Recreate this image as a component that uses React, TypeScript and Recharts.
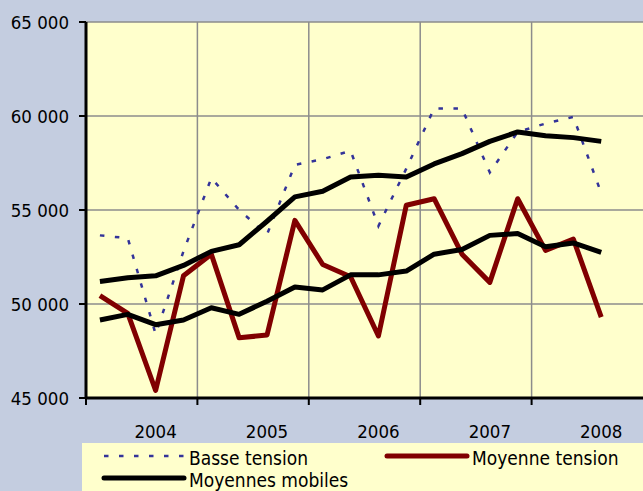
import { LineChart, Line, XAxis, YAxis, CartesianGrid, ReferenceLine } from "recharts";

const quarters = [
  "2004-T1", "2004-T2", "2004-T3", "2004-T4",
  "2005-T1", "2005-T2", "2005-T3", "2005-T4",
  "2006-T1", "2006-T2", "2006-T3", "2006-T4",
  "2007-T1", "2007-T2", "2007-T3", "2007-T4",
  "2008-T1", "2008-T2", "2008-T3",
];

const basseTension = [53650, 53500, 48400, 52800, 56700, 55000, 53700, 57400, 57700, 58150, 54150, 57200, 60400, 60400, 57000, 59150, 59600, 59950, 55900];
const moyenneTension = [50450, 49500, 45400, 51500, 52650, 48200, 48350, 54450, 52100, 51450, 48300, 55250, 55600, 52650, 51150, 55600, 52850, 53450, 49300];
const mmBasse = [51200, 51400, 51500, 52050, 52800, 53150, 54400, 55700, 56000, 56750, 56850, 56750, 57450, 58000, 58650, 59150, 58950, 58850, 58650];
const mmMoyenne = [49150, 49450, 48900, 49150, 49800, 49450, 50150, 50900, 50750, 51550, 51550, 51750, 52650, 52900, 53650, 53750, 53050, 53250, 52750];

const years = ["2004", "2005", "2006", "2007", "2008"];
// label sits on the 3rd quarter of each year, tick marks between years
const yearLabelPos = [2, 6, 10, 14, 18];
const yearBounds = [-0.5, 3.5, 7.5, 11.5, 15.5];
const yTicks = [45000, 50000, 55000, 60000, 65000];

const data = quarters.map((q, i) => ({
  idx: i,
  quarter: q,
  basse: basseTension[i],
  moyenne: moyenneTension[i],
  mmB: mmBasse[i],
  mmM: mmMoyenne[i],
}));

const FONT = "'DejaVu Sans Condensed', 'DejaVu Sans', sans-serif";
const BLUE = "#333399";
const RED = "#800000";
const GRID = "#8c8c8c";
const PLOT_BG = "#ffffcc";
const PAGE_BG = "#c4cde0";

const fmt = (v: number) => `${Math.floor(v / 1000)} ${String(v % 1000).padStart(3, "0")}`;

function QuarterTick(props: any) {
  const { x, y, payload } = props;
  const k = yearLabelPos.indexOf(payload.value);
  if (k >= 0) {
    return (
      <text x={x} y={y + 39.5} textAnchor="middle" fontSize={18.5} fill="#000">
        {years[k]}
      </text>
    );
  }
  return <line x1={x} x2={x} y1={y} y2={y + 7} stroke="#000" strokeWidth={2} />;
}

const legendItems = [
  { label: "Basse tension", color: BLUE, width: 2.5, dash: "4.5 10.5", x: 22, y: 13 },
  { label: "Moyenne tension", color: RED, width: 5, dash: undefined, x: 305, y: 13 },
  { label: "Moyennes mobiles", color: "#000", width: 5, dash: undefined, x: 22, y: 35 },
];

export default function App() {
  return (
    <div style={{ position: "relative", width: 643, height: 491, background: PAGE_BG, fontFamily: FONT, overflow: "hidden" }}>
      <style>{"body{margin:0}"}</style>
      <LineChart width={643} height={491} data={data} margin={{ top: 22, right: 0, left: 0, bottom: 48 }}>
        <CartesianGrid vertical={false} stroke={GRID} strokeWidth={1.5} fill={PLOT_BG} fillOpacity={1} />
        {yearBounds.slice(1).map((b) => (
          <ReferenceLine key={b} x={b} stroke={GRID} strokeWidth={1.5} />
        ))}
        <XAxis
          dataKey="idx"
          type="number"
          domain={[-0.5, 19.5]}
          ticks={[...yearBounds, ...yearLabelPos].sort((a, b) => a - b)}
          interval={0}
          height={45}
          tickSize={0}
          tickMargin={0}
          tickLine={false}
          axisLine={{ stroke: "#000", strokeWidth: 3 }}
          tick={<QuarterTick />}
        />
        <YAxis
          type="number"
          domain={[45000, 65000]}
          ticks={yTicks}
          width={86}
          tickSize={7}
          tickMargin={10}
          tickFormatter={fmt}
          axisLine={{ stroke: "#000", strokeWidth: 3 }}
          tickLine={{ stroke: "#000", strokeWidth: 2 }}
          tick={{ fontSize: 18.5, fill: "#000" }}
        />
        <Line type="linear" dataKey="basse" stroke={BLUE} strokeWidth={2.5} strokeDasharray="4.5 10.5" dot={false} isAnimationActive={false} />
        <Line type="linear" dataKey="moyenne" stroke={RED} strokeWidth={5} strokeLinejoin="round" dot={false} isAnimationActive={false} />
        <Line type="linear" dataKey="mmB" stroke="#000" strokeWidth={5} strokeLinejoin="round" dot={false} isAnimationActive={false} />
        <Line type="linear" dataKey="mmM" stroke="#000" strokeWidth={5} strokeLinejoin="round" dot={false} isAnimationActive={false} />
      </LineChart>
      <svg
        width={561}
        height={48}
        style={{ position: "absolute", left: 82, top: 443, background: PLOT_BG }}
      >
        {legendItems.map((it) => (
          <g key={it.label}>
            <line
              x1={it.x}
              x2={it.x + 80}
              y1={it.y}
              y2={it.y}
              stroke={it.color}
              strokeWidth={it.width}
              strokeDasharray={it.dash}
              strokeLinecap={it.dash ? "butt" : "round"}
            />
            <text x={it.x + 85} y={it.y + 9} fontSize={19} fill="#000">
              {it.label}
            </text>
          </g>
        ))}
      </svg>
    </div>
  );
}
